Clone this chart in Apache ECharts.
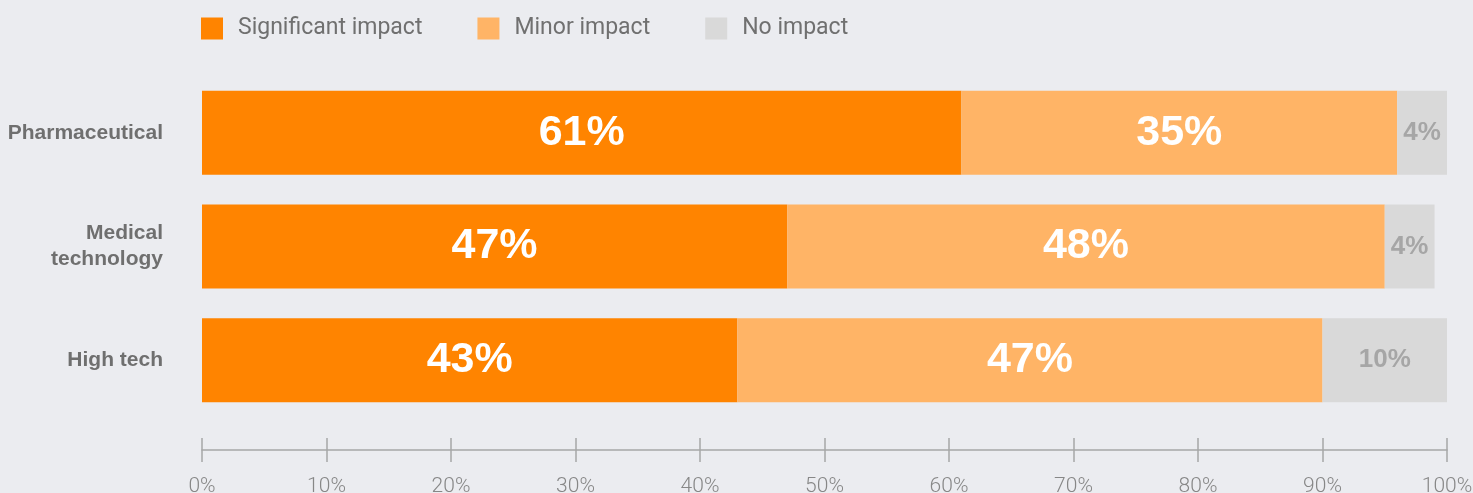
<!DOCTYPE html>
<html>
<head>
<meta charset="utf-8">
<script src="https://cdn.jsdelivr.net/npm/echarts@6/dist/echarts.min.js"></script>
<style>
  html, body { margin: 0; padding: 0; background: #ebecf0; }
  #chart { width: 1473px; height: 493px; }
</style>
</head>
<body>
<div id="chart"></div>
<script>
// Share of respondents by industry and level of impact (%)
const categories = ['Pharmaceutical', 'Medical\ntechnology', 'High tech'];
const significantImpact = [61, 47, 43];
const minorImpact = [35, 48, 47];
const noImpact = [4, 4, 10];
const seriesNames = ['Significant impact', 'Minor impact', 'No impact'];
const tickValues = [0, 10, 20, 30, 40, 50, 60, 70, 80, 90, 100];

const colors = ['#ff8400', '#ffb466', '#d9d9d9'];
const sansBold = '"Liberation Sans", Arial, sans-serif';
const sansLight = 'Roboto, "Liberation Sans", sans-serif';

function bigLabel(color, size) {
  return {
    show: true,
    position: 'inside',
    formatter: p => p.value + '%',
    color: color,
    fontSize: size,
    fontWeight: 'bold',
    fontFamily: sansBold
  };
}

const chart = echarts.init(document.getElementById('chart'), null, { renderer: 'canvas' });

const xAxisBase = {
  type: 'value',
  min: 0,
  max: 100,
  interval: 10,
  position: 'bottom',
  offset: 33,
  splitLine: { show: false }
};

chart.setOption({
  backgroundColor: '#ebecf0',
  animation: false,
  legend: {
    left: 196,
    top: 12,
    itemWidth: 22,
    itemHeight: 22,
    itemGap: 55,
    icon: 'rect',
    textStyle: {
      color: '#707070',
      fontSize: 23,
      fontFamily: sansLight,
      padding: [0, 0, 0, 10]
    },
    data: seriesNames
  },
  grid: {
    left: 202,
    right: 26,
    top: 76,
    bottom: 76,
    containLabel: false,
    outerBoundsMode: 'none'
  },
  xAxis: [
    Object.assign({}, xAxisBase, {
      axisLine: { show: true, lineStyle: { color: '#a6a6a6', width: 1.5 } },
      axisTick: { show: true, inside: false, length: 12, lineStyle: { color: '#a6a6a6', width: 1.5 } },
      axisLabel: {
        show: true,
        margin: 26,
        color: '#878787',
        fontSize: 21,
        fontWeight: 300,
        fontFamily: sansLight,
        customValues: tickValues,
        formatter: v => v + '%'
      }
    }),
    Object.assign({}, xAxisBase, {
      axisLine: { show: false },
      axisTick: { show: true, inside: true, length: 12, lineStyle: { color: '#a6a6a6', width: 1.5 } },
      axisLabel: { show: false }
    })
  ],
  yAxis: {
    type: 'category',
    inverse: true,
    data: categories,
    axisLine: { show: false },
    axisTick: { show: false },
    axisLabel: {
      margin: 39,
      color: '#6f6f6f',
      fontSize: 21,
      fontWeight: 'bold',
      fontFamily: sansBold,
      lineHeight: 26,
      align: 'right'
    }
  },
  series: [
    {
      name: seriesNames[0], type: 'bar', stack: 'total', barWidth: 84,
      itemStyle: { color: colors[0] },
      label: bigLabel('#ffffff', 43),
      data: significantImpact
    },
    {
      name: seriesNames[1], type: 'bar', stack: 'total', barWidth: 84,
      itemStyle: { color: colors[1] },
      label: bigLabel('#ffffff', 43),
      data: minorImpact
    },
    {
      name: seriesNames[2], type: 'bar', stack: 'total', barWidth: 84,
      itemStyle: { color: colors[2] },
      label: bigLabel('#a6a6a6', 26),
      data: noImpact
    }
  ]
});
</script>
</body>
</html>
